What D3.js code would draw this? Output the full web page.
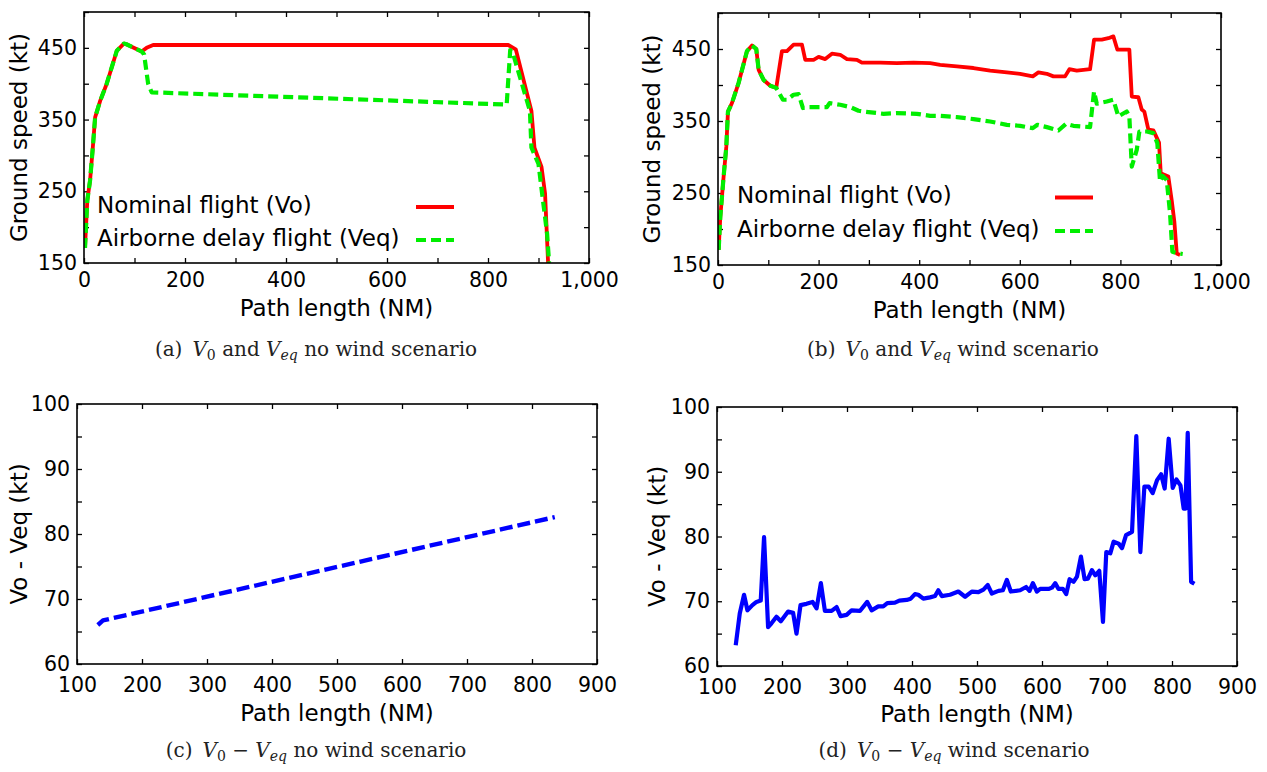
<!DOCTYPE html>
<html>
<head>
<meta charset="utf-8">
<script src="https://cdn.jsdelivr.net/npm/d3@7"></script>
<style>
  body { margin: 0; background: #fff; }
  svg { display: block; }
  .tick text { font-family: "DejaVu Sans", sans-serif; fill: #000; }
</style>
</head>
<body>
<svg id="fig" width="1267" height="772"></svg>
<script>
// ---- Ground speed along the route, no wind (NM, kt) ----
const calmVoDist = [2, 6.5, 12, 17, 22, 32, 45, 65, 79, 84, 114, 124, 137, 840, 855, 886, 892, 906, 913, 919];
const calmVo     = [171, 237, 265, 307, 353, 376, 400, 446, 456, 455, 445, 450, 454, 454, 448, 362, 311, 284, 247, 150];
const calmVeqDist = [2, 6.5, 12, 17, 22, 32, 45, 65, 79, 84, 114, 119, 127, 134, 837, 844, 850, 883, 886, 900, 908, 917, 921];
const calmVeq     = [171, 237, 265, 307, 353, 376, 400, 446, 456, 455, 445, 441, 400, 388, 371, 447, 441, 362, 311, 288, 242, 191, 150];

// ---- Ground speed along the route, with wind (NM, kt) ----
const windVoDist = [1.3, 4.6, 11.2, 16.5, 19.8, 27.8, 41, 57.6, 67.6, 76.1, 80.8, 90.7, 103.9, 115.8, 127.1, 137.1, 150.3, 166.9, 173.5, 190,
  200, 213.2, 226.5, 243, 256.3, 276.2, 286.1, 322.5, 355.6, 388.6, 421.8, 441.7, 474.9, 507.9, 541, 574.2, 600.6, 625.9, 637, 653.7,
  666.8, 690, 698.6, 713.3, 739.7, 747.6, 763, 776, 786, 794, 817.8, 822.6, 835.7, 842.4, 847.6, 855.6, 865.5, 876.8, 880.2, 895.3,
  902, 907.3, 912, 918.5];
const windVo = [171, 217, 273, 314, 363, 375, 403, 447, 455, 450, 421, 407, 399, 396, 447, 447, 456, 456, 435, 435,
  439, 436, 443.5, 442, 436, 435, 431, 431, 430.5, 431, 430.5, 428, 426, 423.6, 420, 417.5, 415.6, 412, 417.5, 415.6,
  412, 412, 422, 420, 422, 463, 463, 465, 467.5, 449, 449, 384, 383, 366, 363, 338, 337, 320, 277.5, 273,
  240, 210, 166, 164];
const windVeqDist = [1.3, 4.6, 11.2, 16.5, 19.8, 27.8, 41, 57.6, 67.6, 76.1, 80.8, 90.7, 103.9, 115.8, 129.1, 137.1, 150.2, 160.2, 168.9, 180,
  216.5, 221.8, 243, 262.9, 279.4, 289.3, 329, 355.6, 395.4, 421.8, 441.7, 474.9, 507.9, 541, 574.2, 600.6, 625.9, 635, 653.7, 676.7,
  692, 706.6, 739.7, 747.6, 753, 772.9, 786, 796, 812.6, 817.8, 822.6, 832.5, 837.7, 852.4, 865.5, 873.4, 878.8, 884.1, 892.1, 898.7,
  903.3, 913.2, 923.9];
const windVeq = [171, 217, 273, 314, 363, 375, 403, 447, 455, 450, 421, 407, 399, 396, 379.5, 379.5, 386.4, 387.4, 368, 369.3,
  369.3, 374.9, 372.5, 369.3, 364.2, 363.2, 360, 361, 360, 357.2, 357.2, 355.4, 352.6, 349.3, 344.7, 343.3, 340.1, 344.7, 341.5, 336.8,
  346.1, 343.3, 341.5, 391, 374, 377, 379.5, 356.3, 363.2, 356.3, 286.7, 309.9, 335.4, 335.4, 333.2, 319.3, 265.9, 273.8, 268.2, 221.9,
  168.5, 166.3, 165.3];

// ---- Speed difference Vo - Veq (NM, kt) ----
const calmDiffDist = [132, 140, 835];
const calmDiff     = [66.0, 66.7, 82.6];
const windDiffDist = [128.8, 135, 141.6, 146.8, 154.5, 160.7, 167.3, 172.4, 178.6, 183.8,
  191.5, 198.2, 209.4, 217.1, 222.3, 228.5, 237.7, 247, 253.2, 259.8,
  266, 276.3, 284, 290.1, 299.4, 307.1, 319.9, 331.1, 337.9, 348.1,
  355.8, 362, 373.8, 380.5, 391.8, 398, 404.6, 409.7, 417.4, 427.7,
  435.4, 440.5, 445.7, 458.5, 471.3, 481.7, 492, 502.2, 509.9, 516.6,
  522.8, 533, 539.8, 546, 552, 566.4, 575.6, 580.8, 586, 592.1,
  597.2, 610, 615.3, 620.3, 625.4, 632.2, 637.3, 642.4, 648.5, 653.8,
  659.9, 665.5, 670.7, 676.8, 682, 688.1, 693.8, 698.9, 705.1, 710.2,
  717.9, 723.1, 729.3, 738.5, 745.1, 751.3, 757.5, 764.1, 770.3, 777,
  783.2, 788.7, 794.9, 801.1, 806.8, 813, 818, 820.6, 824.2, 829.4, 834.5];
const windDiff = [63.2, 68.1, 71, 68.6, 69.4, 69.9, 70.1, 79.9, 66, 66.6,
  67.6, 66.9, 68.4, 68.2, 65, 69.4, 69.6, 69.9, 68.9, 72.8,
  68.5, 68.5, 69.1, 67.7, 67.9, 68.6, 68.5, 69.9, 68.6, 69.2,
  69.2, 69.7, 69.8, 70.1, 70.2, 70.4, 71.1, 71, 70.4, 70.6,
  70.8, 71.7, 70.8, 71, 71.5, 70.7, 71.5, 71.4, 71.8, 72.5,
  71.2, 71.6, 71.7, 73.3, 71.5, 71.7, 72.2, 71.6, 72.8, 71.5,
  71.9, 71.9, 72.1, 72.8, 71.9, 71.9, 71.1, 73.4, 73, 73.8,
  76.9, 73.4, 73.5, 74.8, 74, 74.7, 66.8, 77.6, 77.4, 79.2,
  78.9, 78.2, 80.2, 80.7, 95.5, 77.6, 87.7, 87.7, 86.7, 88.7,
  89.6, 87.4, 95.1, 87.5, 88.8, 87.9, 84.3, 84.3, 96, 73, 72.7];

// ---- Axis ticks and labels ----
const speedTicks   = [150, 200, 250, 300, 350, 400, 450, 500];
const speedLabels  = [150, 250, 350, 450];
const pathTicks    = [0, 100, 200, 300, 400, 500, 600, 700, 800, 900, 1000];
const pathLabels   = [0, 200, 400, 600, 800, 1000];
const diffTicks    = [60, 65, 70, 75, 80, 85, 90, 95, 100];
const diffLabels   = [60, 70, 80, 90, 100];
const diffPathTicks = [100, 200, 300, 400, 500, 600, 700, 800, 900];
const legendNames  = ["Nominal flight (Vo)", "Airborne delay flight (Veq)"];
const speedTitle = "Ground speed (kt)";
const diffTitle  = "Vo - Veq (kt)";
const pathTitle  = "Path length (NM)";

const RED = "#ff0000", GREEN = "#00ee00", BLUE = "#0000ff";
const SANS = "'DejaVu Sans', sans-serif";
const SERIF = "'DejaVu Serif', 'Liberation Serif', serif";

const svg = d3.select("#fig");
const fmt = d3.format(",");

function panel(cfg) {
  const { id, box, xDomain, yDomain, xTicks, xLabels, yTicks, yLabels, yTitle, yTitleX,
          xPad, xTitleGap, series, legend } = cfg;
  const x = d3.scaleLinear().domain(xDomain).range([box.left, box.right]);
  const y = d3.scaleLinear().domain(yDomain).range([box.bottom, box.top]);
  const g = svg.append("g");

  g.append("clipPath").attr("id", "clip-" + id)
    .append("rect").attr("x", box.left).attr("y", box.top)
    .attr("width", box.right - box.left).attr("height", box.bottom - box.top);

  const tickFmt = (labels) => (d) => labels.includes(d) ? fmt(d) : "";

  // bottom / left axes carry the labels, top / right mirror the ticks
  const bottom = g.append("g").attr("transform", `translate(0,${box.bottom})`)
    .call(d3.axisBottom(x).tickValues(xTicks).tickSizeInner(-5).tickSizeOuter(0).tickPadding(xPad).tickFormat(tickFmt(xLabels)));
  const top = g.append("g").attr("transform", `translate(0,${box.top})`)
    .call(d3.axisTop(x).tickValues(xTicks).tickSizeInner(-5).tickSizeOuter(0).tickFormat(""));
  const left = g.append("g").attr("transform", `translate(${box.left},0)`)
    .call(d3.axisLeft(y).tickValues(yTicks).tickSizeInner(-5).tickSizeOuter(0).tickPadding(7).tickFormat(tickFmt(yLabels)));
  const right = g.append("g").attr("transform", `translate(${box.right},0)`)
    .call(d3.axisRight(y).tickValues(yTicks).tickSizeInner(-5).tickSizeOuter(0).tickFormat(""));
  [bottom, top, left, right].forEach(a => {
    a.select(".domain").remove();
    a.selectAll(".tick line").attr("stroke", "#000").attr("stroke-width", 1.3);
    a.selectAll(".tick text").style("font-size", "20.5px").style("font-family", SANS);
  });

  const line = d3.line().x(d => x(d[0])).y(d => y(d[1]));
  const plot = g.append("g").attr("clip-path", `url(#clip-${id})`);
  series.forEach(s => {
    plot.append("path")
      .datum(d3.zip(s.xs, s.ys))
      .attr("d", line)
      .attr("fill", "none")
      .attr("stroke", s.color)
      .attr("stroke-width", s.width)
      .attr("stroke-dasharray", s.dash || null)
      .attr("stroke-linejoin", "round");
  });

  g.append("rect").attr("x", box.left).attr("y", box.top)
    .attr("width", box.right - box.left).attr("height", box.bottom - box.top)
    .attr("fill", "none").attr("stroke", "#000").attr("stroke-width", 1.6);

  // axis titles
  g.append("text").attr("x", (box.left + box.right) / 2).attr("y", box.bottom + xTitleGap)
    .attr("text-anchor", "middle").style("font-family", SANS).style("font-size", "23px")
    .text(pathTitle);
  g.append("text")
    .attr("transform", `translate(${yTitleX},${(box.top + box.bottom) / 2}) rotate(-90)`)
    .attr("text-anchor", "middle").style("font-family", SANS).style("font-size", "23px")
    .text(yTitle);

  if (legend) {
    legend.rows.forEach((r, i) => {
      g.append("text").attr("x", legend.textX).attr("y", legend.textY + i * legend.step)
        .style("font-family", SANS).style("font-size", "23px").text(r.name);
      g.append("line")
        .attr("x1", legend.lineX).attr("x2", legend.lineX + 38)
        .attr("y1", legend.lineY + i * legend.lineStep).attr("y2", legend.lineY + i * legend.lineStep)
        .attr("stroke", r.color).attr("stroke-width", r.width).attr("stroke-dasharray", r.dash || null);
    });
  }
}

const voStyle  = { color: RED, width: 3.8 };
const veqStyle = { color: GREEN, width: 4.2, dash: "10,5" };

panel({
  id: "a", box: { left: 84, top: 12, right: 589, bottom: 263 },
  xDomain: [0, 1000], yDomain: [150, 500],
  xTicks: pathTicks, xLabels: pathLabels, yTicks: speedTicks, yLabels: speedLabels,
  yTitle: speedTitle, yTitleX: 27, xPad: 9, xTitleGap: 53,
  series: [
    { xs: calmVoDist, ys: calmVo, ...voStyle },
    { xs: calmVeqDist, ys: calmVeq, ...veqStyle }
  ],
  legend: {
    textX: 97, textY: 213, step: 33, lineX: 416, lineY: 207, lineStep: 33,
    rows: [{ name: legendNames[0], ...voStyle }, { name: legendNames[1], ...veqStyle }]
  }
});

panel({
  id: "b", box: { left: 718, top: 13, right: 1221, bottom: 265 },
  xDomain: [0, 1000], yDomain: [150, 500],
  xTicks: pathTicks, xLabels: pathLabels, yTicks: speedTicks, yLabels: speedLabels,
  yTitle: speedTitle, yTitleX: 660, xPad: 9, xTitleGap: 53,
  series: [
    { xs: windVoDist, ys: windVo, ...voStyle },
    { xs: windVeqDist, ys: windVeq, ...veqStyle }
  ],
  legend: {
    textX: 737, textY: 203, step: 33.5, lineX: 1055, lineY: 197.5, lineStep: 33.5,
    rows: [{ name: legendNames[0], ...voStyle }, { name: legendNames[1], ...veqStyle }]
  }
});

panel({
  id: "c", box: { left: 77, top: 404, right: 597, bottom: 664 },
  xDomain: [100, 900], yDomain: [60, 100],
  xTicks: diffPathTicks, xLabels: diffPathTicks, yTicks: diffTicks, yLabels: diffLabels,
  yTitle: diffTitle, yTitleX: 27, xPad: 13, xTitleGap: 57,
  series: [{ xs: calmDiffDist, ys: calmDiff, color: BLUE, width: 4.4, dash: "13,5" }]
});

panel({
  id: "d", box: { left: 717, top: 407, right: 1237, bottom: 666 },
  xDomain: [100, 900], yDomain: [60, 100],
  xTicks: diffPathTicks, xLabels: diffPathTicks, yTicks: diffTicks, yLabels: diffLabels,
  yTitle: diffTitle, yTitleX: 665, xPad: 13, xTitleGap: 56,
  series: [{ xs: windDiffDist, ys: windDiff, color: BLUE, width: 4.2 }]
});

// sub-figure captions
function caption(cx, cy, tag, op, tail) {
  const t = svg.append("text").attr("x", cx).attr("y", cy).attr("text-anchor", "middle")
    .style("font-family", SERIF).style("font-size", "20px").attr("fill", "#222");
  t.append("tspan").text(tag + "\u2002");
  t.append("tspan").style("font-style", "italic").text("V");
  t.append("tspan").attr("dy", 4).style("font-size", "14px").text("0");
  t.append("tspan").attr("dy", -4).text(op);
  t.append("tspan").style("font-style", "italic").text("V");
  t.append("tspan").attr("dy", 4).style("font-size", "14px").style("font-style", "italic").text("eq");
  t.append("tspan").attr("dy", -4).text(tail);
}
caption(316, 356, "(a)", " and ", " no wind scenario");
caption(953, 356, "(b)", " and ", " wind scenario");
caption(316, 757, "(c)", " \u2212 ", " no wind scenario");
caption(954, 757, "(d)", " \u2212 ", " wind scenario");
</script>
</body>
</html>
